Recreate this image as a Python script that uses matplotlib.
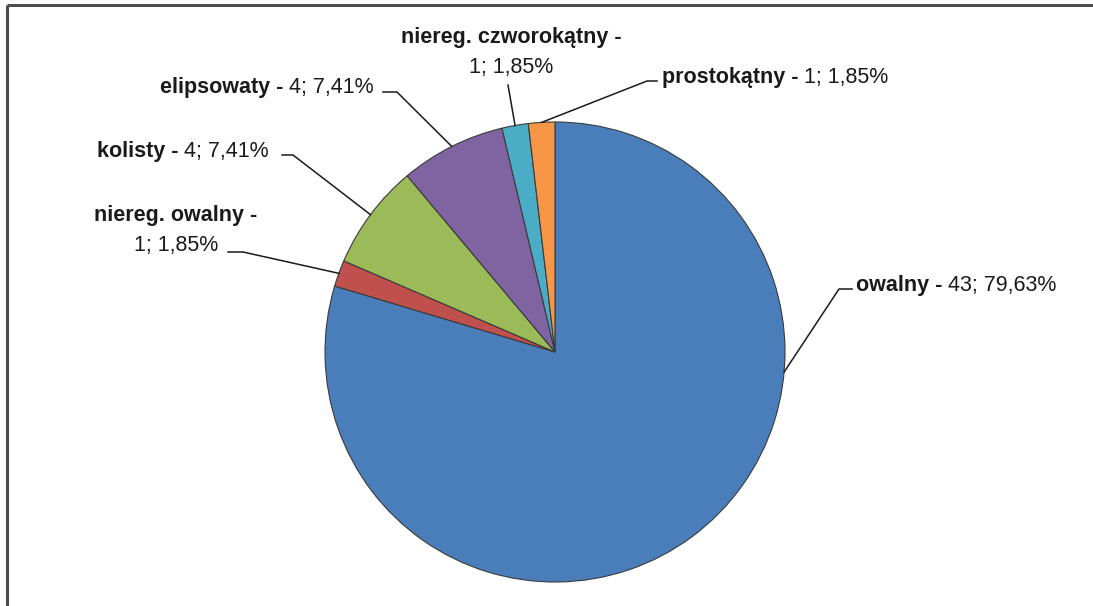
import matplotlib
matplotlib.use("Agg")
import matplotlib.pyplot as plt
import numpy as np

# ---- data ----
categories = ["owalny", "niereg. owalny", "kolisty", "elipsowaty",
              "niereg. czworokątny", "prostokątny"]
counts = [43, 1, 4, 4, 1, 1]
percent_labels = ["79,63%", "1,85%", "7,41%", "7,41%", "1,85%", "1,85%"]
colors = ["#4A7EBB", "#C0504D", "#9BBB59", "#8064A2", "#4BACC6", "#F79646"]

W, H = 1093, 606
plt.rcParams['font.family'] = ['Liberation Sans', 'DejaVu Sans']
fig = plt.figure(figsize=(W / 100, H / 100), dpi=100)
ax = fig.add_axes([0, 0, 1, 1])
ax.set_xlim(0, W)
ax.set_ylim(0, H)
ax.set_aspect('equal')
ax.axis('off')

def Y(py):
    return H - py

cx, cy, R = 555, Y(352), 230
wedges, _ = ax.pie(counts, colors=colors, startangle=90, counterclock=False,
                   center=(cx, cy), radius=R, frame=True,
                   wedgeprops=dict(edgecolor="#3a3a3a", linewidth=0.8))
ax.set_xlim(0, W)
ax.set_ylim(0, H)
ax.axis('off')

# frame lines (top and left)
ax.plot([6.5, W], [Y(4.5), Y(4.5)], color="#4d4d4d", lw=2.2, solid_capstyle='butt')
ax.plot([6.5, 6.5], [Y(4.5), 0], color="#4d4d4d", lw=2.2, solid_capstyle='butt')

fs = 15.5
renderer = fig.canvas.get_renderer()

def rim_point(i, angle=None):
    w = wedges[i]
    if angle is None:
        angle = (w.theta1 + w.theta2) / 2
    a = np.deg2rad(angle)
    return cx + R * np.cos(a), cy + R * np.sin(a)

def one_line(x, py, bold, normal, ha='left'):
    t1 = ax.text(x, Y(py), bold, fontsize=fs, fontweight='bold', va='center', ha='left', color='#1a1a1a')
    bb = t1.get_window_extent(renderer)
    t2 = ax.text(0, Y(py), normal, fontsize=fs, va='center', ha='left', color='#1a1a1a')
    bb2 = t2.get_window_extent(renderer)
    total = bb.width + bb2.width
    if ha == 'center':
        x0 = x - total / 2
    else:
        x0 = x
    t1.set_x(x0)
    t2.set_x(x0 + bb.width)

def leader(points, i, angle=None):
    rx, ry = rim_point(i, angle)
    xs = [p[0] for p in points] + [rx]
    ys = [Y(p[1]) for p in points] + [ry]
    ax.plot(xs, ys, color="#1a1a1a", lw=1.1)

# owalny
one_line(856, 285, "owalny -", f" {counts[0]}; {percent_labels[0]}")
leader([(852, 289), (839, 289)], 0, angle=-5)

# niereg. owalny (two lines)
one_line(176, 216, "niereg. owalny -", "", ha='center')
one_line(176, 246, "", f"{counts[1]}; {percent_labels[1]}", ha='center')
leader([(228, 252), (243, 252)], 1)

# kolisty
one_line(97, 151, "kolisty -", f" {counts[2]}; {percent_labels[2]}")
leader([(282, 155), (293, 155)], 2)

# elipsowaty
one_line(160, 88, "elipsowaty -", f" {counts[3]}; {percent_labels[3]}")
leader([(383, 92), (397, 92)], 3)

# niereg. czworokątny (two lines)
one_line(511, 37, "niereg. czworokątny -", "", ha='center')
one_line(511, 68, "", f"{counts[4]}; {percent_labels[4]}", ha='center')
leader([(508, 85)], 4)

# prostokątny
one_line(662, 77, "prostokątny -", f" {counts[5]}; {percent_labels[5]}")
leader([(657, 81), (647, 81)], 5)

fig.savefig("out.png", dpi=100, facecolor="white")
